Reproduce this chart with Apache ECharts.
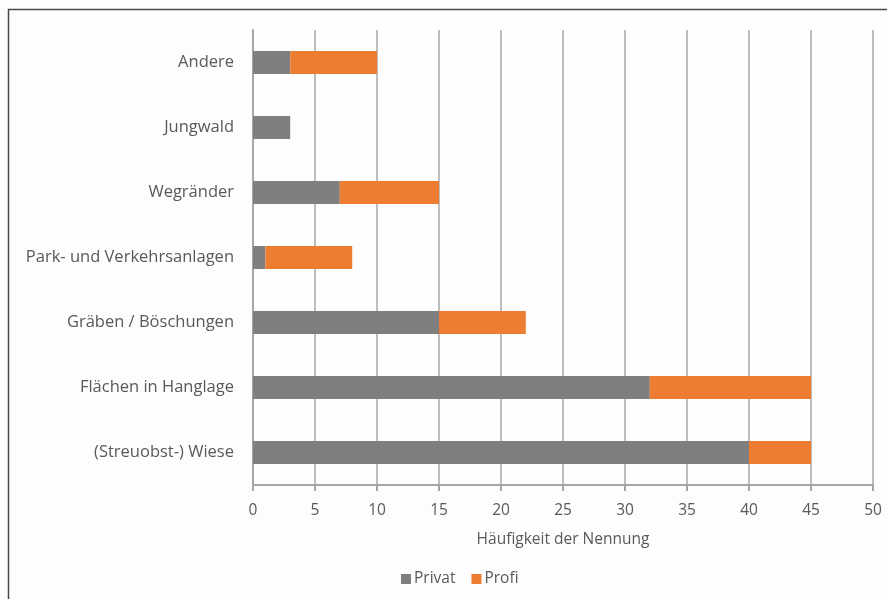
<!DOCTYPE html>
<html>
<head>
<meta charset="utf-8">
<script src="https://cdn.jsdelivr.net/npm/echarts@6/dist/echarts.min.js"></script>
<style>
html,body{margin:0;padding:0;background:#fff;}
#c{width:887px;height:599px;}
</style>
</head>
<body>
<div id="c"></div>
<script>
const categories = ['(Streuobst-) Wiese', 'Flächen in Hanglage', 'Gräben / Böschungen', 'Park- und Verkehrsanlagen', 'Wegränder', 'Jungwald', 'Andere'];
const privat = [40, 32, 15, 1, 7, 3, 3];
const profi = [5, 13, 7, 7, 8, 0, 7];
const xTicks = [0, 50, 5];

const font = 'Open Sans';
const txt = '#595959';
const chart = echarts.init(document.getElementById('c'));
chart.setOption({
  backgroundColor: '#fdfdfd',
  animation: false,
  graphic: [{
    type: 'rect', shape: {x: 8.5, y: 9.5, width: 900, height: 600},
    style: {fill: 'none', stroke: '#4a4a4a', lineWidth: 1.5}, silent: true
  }],
  grid: {left: 253, right: 14, top: 30, bottom: 114, containLabel: false},
  xAxis: {
    type: 'value', min: xTicks[0], max: xTicks[1], interval: xTicks[2],
    name: 'Häufigkeit der Nennung', nameLocation: 'middle', nameGap: 47,
    nameTextStyle: {color: txt, fontFamily: font, fontSize: 15.5},
    axisLine: {show: true, lineStyle: {color: '#a6a6a6', width: 2}},
    axisTick: {show: true, length: 6, lineStyle: {color: '#a6a6a6', width: 2}},
    axisLabel: {color: txt, fontFamily: font, fontSize: 15.5, margin: 18},
    splitLine: {show: true, lineStyle: {color: '#bdbdbd', width: 2}}
  },
  yAxis: {
    type: 'category', data: categories,
    axisLine: {show: true, lineStyle: {color: '#a6a6a6', width: 2}},
    axisTick: {show: false},
    axisLabel: {color: txt, fontFamily: font, fontSize: 16.5, margin: 19}
  },
  legend: {
    bottom: 7, left: 396, itemWidth: 10, itemHeight: 10, itemGap: 16,
    icon: 'rect',
    textStyle: {color: txt, fontFamily: font, fontSize: 15.5, padding: [0, 0, 0, -2]},
    data: ['Privat', 'Profi']
  },
  series: [
    {name: 'Privat', type: 'bar', stack: 'a', data: privat, barWidth: 23, itemStyle: {color: '#7f7f7f'}},
    {name: 'Profi', type: 'bar', stack: 'a', data: profi, barWidth: 23, itemStyle: {color: '#ed7d31'}}
  ]
});
</script>
</body>
</html>
